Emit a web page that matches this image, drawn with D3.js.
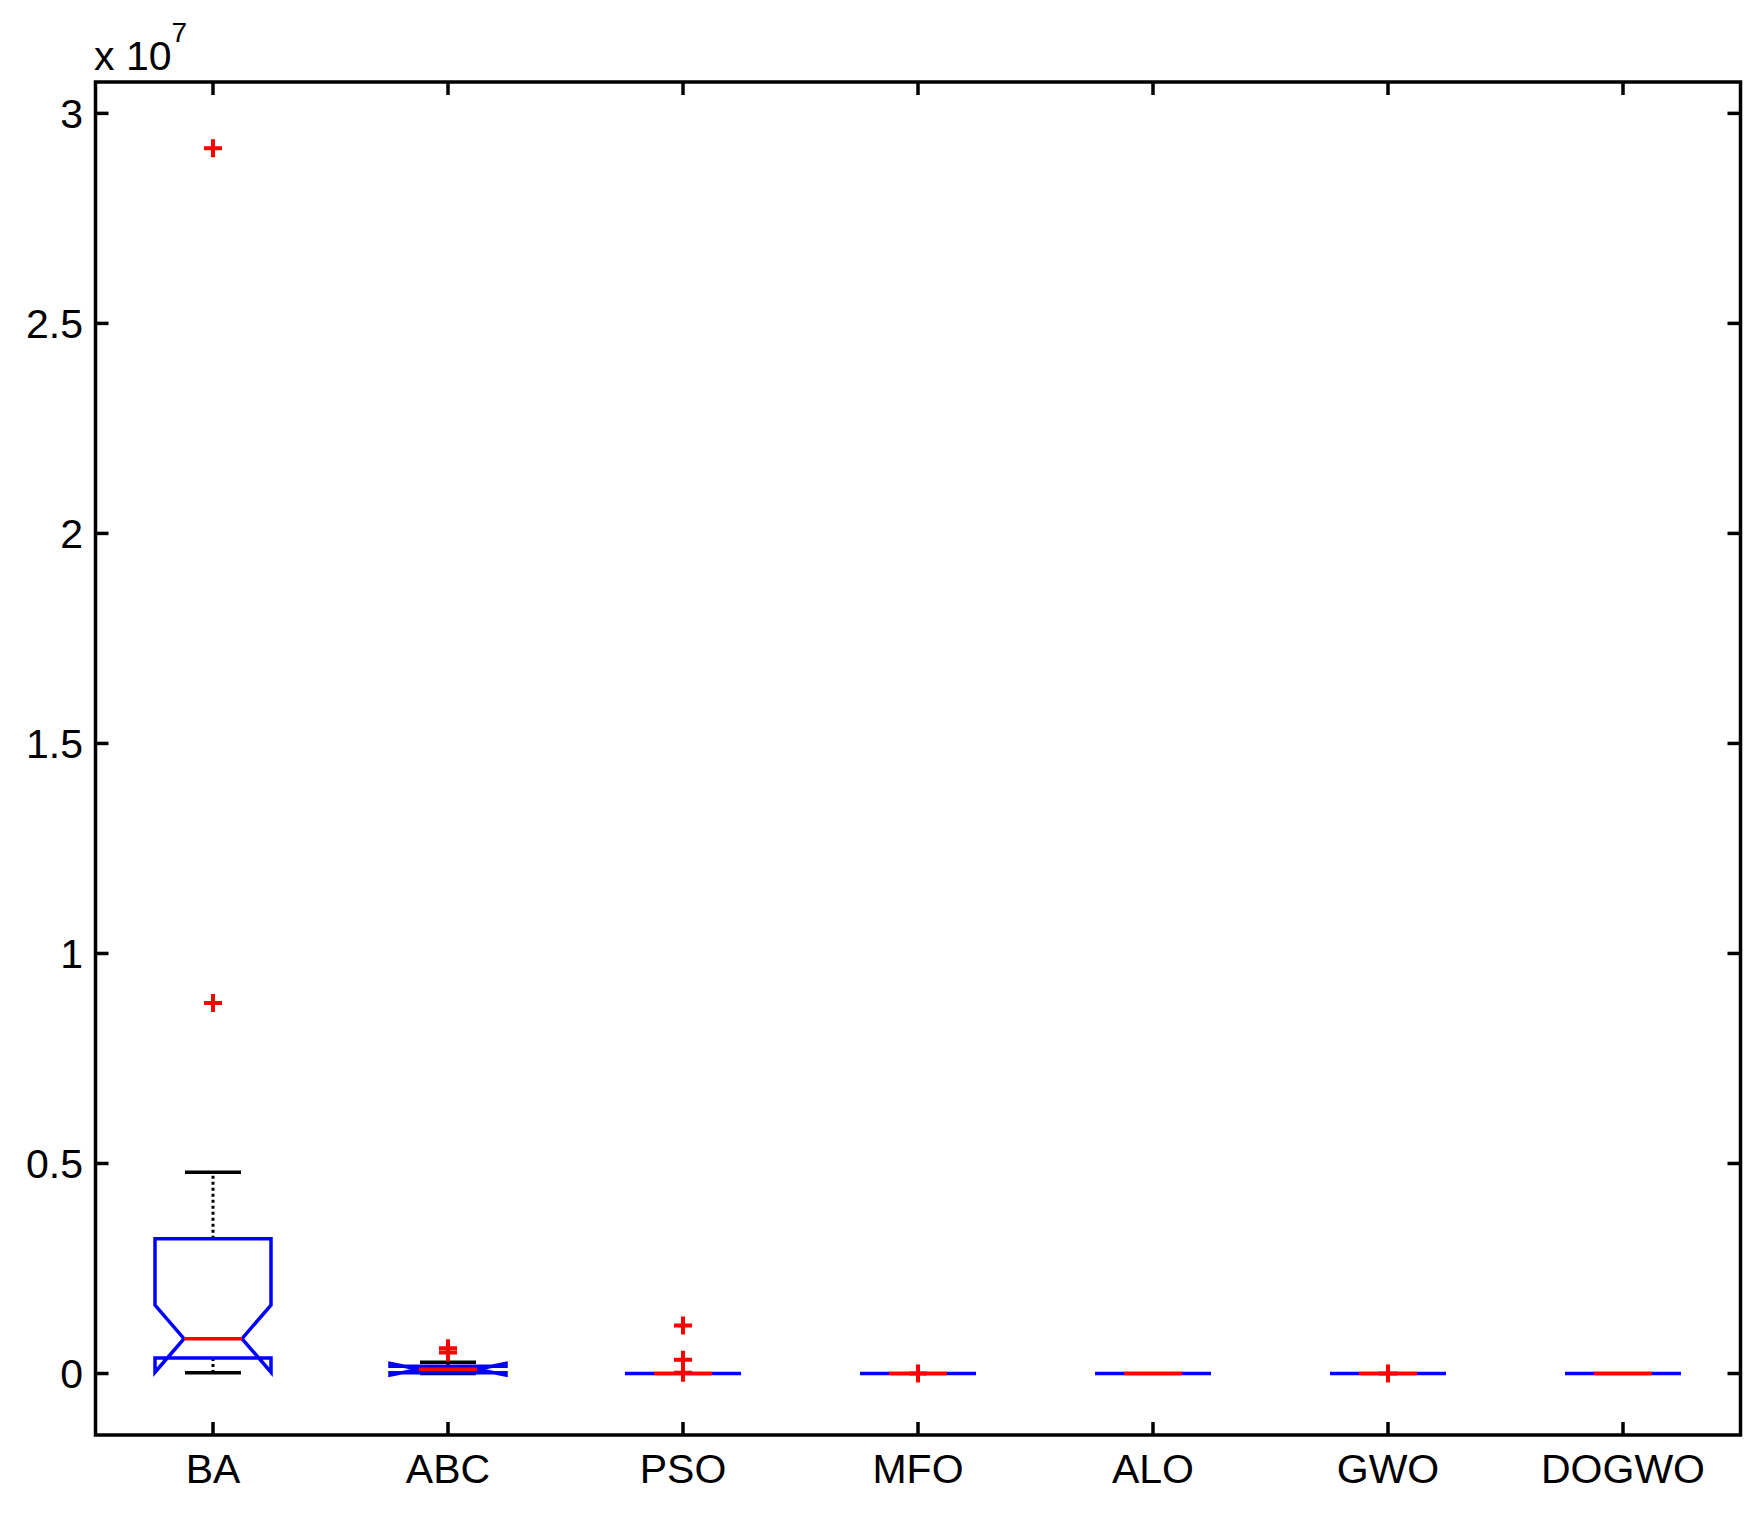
<!DOCTYPE html>
<html lang="en">
<head>
<meta charset="UTF-8">
<title>Boxplot</title>
<style>
  body { margin: 0; background: #fff; }
  text { font-family: "Liberation Sans", Arial, sans-serif; }
</style>
</head>
<body>
<script src="https://d3js.org/d3.v7.min.js"></script>
<script>
// values in units of 1e7
var categories = ["BA", "ABC", "PSO", "MFO", "ALO", "GWO", "DOGWO"];
var q1        = [0.037, 0.002, 0, 0, 0, 0, 0];
var median    = [0.083, 0.010, 0, 0, 0, 0, 0];
var q3        = [0.321, 0.017, 0, 0, 0, 0, 0];
var whiskerLo = [0.002, 0.000, 0, 0, 0, 0, 0];
var whiskerHi = [0.479, 0.027, 0, 0, 0, 0, 0];
var notchLo   = [0.003, -0.004, 0, 0, 0, 0, 0];
var notchHi   = [0.163, 0.024, 0, 0, 0, 0, 0];
var outliers  = [[2.917, 0.882], [0.06, 0.05], [0.114, 0.033, 0.002], [0.0], [], [0.0], []];
var yTicks = [0, 0.5, 1, 1.5, 2, 2.5, 3];

var W = 1764, H = 1516;
var m = {left: 95.5, right: 1740.5, top: 82, bottom: 1435};

var svg = d3.select("body").append("svg")
    .attr("width", W).attr("height", H);

var x = d3.scalePoint().domain(categories).range([m.left, m.right]).padding(0.5);
var y = d3.scaleLinear().domain([-0.1464, 3.0747]).range([m.bottom, m.top]);

var boxW = 116, notchW = 58, capW = 56;
var blue = "#0000ff", red = "#ff0000";

// boxes
var g = svg.append("g");
categories.forEach(function(c, i) {
    var cx = x(c), l = cx - boxW / 2, r = cx + boxW / 2;
    var il = cx - notchW / 2, ir = cx + notchW / 2;
    // whiskers
    [[q3[i], whiskerHi[i]], [q1[i], whiskerLo[i]]].forEach(function(w) {
        if (w[0] === w[1]) return;
        g.append("line").attr("x1", cx).attr("x2", cx)
            .attr("y1", y(w[0])).attr("y2", y(w[1]))
            .attr("stroke", "#000").attr("stroke-width", 3).attr("stroke-dasharray", "3,3");
        g.append("line").attr("x1", cx - capW / 2).attr("x2", cx + capW / 2)
            .attr("y1", y(w[1])).attr("y2", y(w[1]))
            .attr("stroke", "#000").attr("stroke-width", 3.5);
    });
    var pts = [[l, q1[i]], [l, notchLo[i]], [il, median[i]], [l, notchHi[i]], [l, q3[i]],
               [r, q3[i]], [r, notchHi[i]], [ir, median[i]], [r, notchLo[i]], [r, q1[i]]];
    g.append("path")
        .attr("d", d3.line().x(function(p) { return p[0]; }).y(function(p) { return y(p[1]); })(pts) + "Z")
        .attr("fill", "none").attr("stroke", blue).attr("stroke-width", 3.5);
    g.append("line").attr("x1", il).attr("x2", ir)
        .attr("y1", y(median[i])).attr("y2", y(median[i]))
        .attr("stroke", red).attr("stroke-width", 3.5);
    outliers[i].forEach(function(v) {
        var py = y(v), s = 9;
        g.append("path")
            .attr("d", "M" + (cx - s) + "," + py + "H" + (cx + s) + "M" + cx + "," + (py - s) + "V" + (py + s))
            .attr("stroke", red).attr("stroke-width", 4).attr("fill", "none");
    });
});

// axes frame and ticks
var tickLen = 13;
var ax = svg.append("g").attr("stroke", "#000").attr("stroke-width", 3.5);
ax.append("rect").attr("x", m.left).attr("y", m.top)
    .attr("width", m.right - m.left).attr("height", m.bottom - m.top).attr("fill", "none");
categories.forEach(function(c) {
    ax.append("line").attr("x1", x(c)).attr("x2", x(c)).attr("y1", m.bottom).attr("y2", m.bottom - tickLen);
    ax.append("line").attr("x1", x(c)).attr("x2", x(c)).attr("y1", m.top).attr("y2", m.top + tickLen);
});
yTicks.forEach(function(t) {
    ax.append("line").attr("x1", m.left).attr("x2", m.left + tickLen).attr("y1", y(t)).attr("y2", y(t));
    ax.append("line").attr("x1", m.right).attr("x2", m.right - tickLen).attr("y1", y(t)).attr("y2", y(t));
});

// labels
svg.append("g").selectAll("text").data(yTicks).enter().append("text")
    .attr("x", 83).attr("y", function(d) { return y(d); }).attr("dy", "0.36em")
    .attr("text-anchor", "end").attr("font-size", 41)
    .text(function(d) { return d; });
svg.append("g").selectAll("text").data(categories).enter().append("text")
    .attr("x", function(d) { return x(d); }).attr("y", 1483)
    .attr("text-anchor", "middle").attr("font-size", 41)
    .text(function(d) { return d; });
var ex = svg.append("text").attr("x", 94).attr("y", 70).attr("font-size", 41);
ex.append("tspan").text("x 10");
ex.append("tspan").attr("dy", -28).attr("font-size", 28).text("7");
</script>
</body>
</html>
